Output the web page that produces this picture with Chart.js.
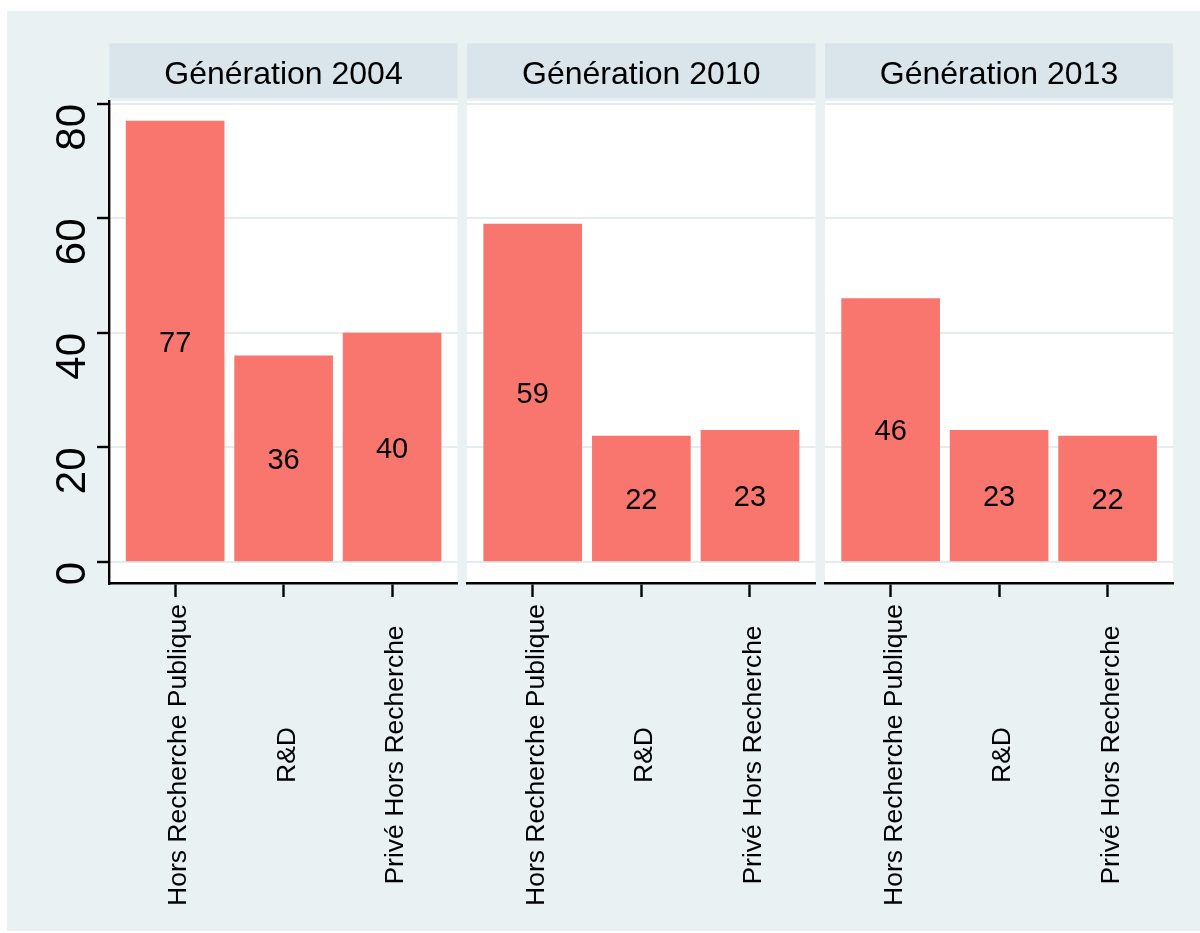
<!DOCTYPE html>
<html lang="fr">
<head>
<meta charset="utf-8">
<title>Part par génération</title>
<script src="https://cdn.jsdelivr.net/npm/chart.js@4.4.1/dist/chart.umd.min.js"></script>
<style>
    html, body { margin: 0; padding: 0; background: #fff; }
    body { width: 1200px; height: 933px; position: relative; overflow: hidden; }
    #frame { position: absolute; left: 7px; top: 11px; width: 1193px; height: 920px; background: #e9f1f3; }
    canvas { position: absolute; top: 0; }
</style>
</head>
<body>
<div id="frame"></div>
<canvas id="panel0" width="462" height="933" style="left:0px"></canvas>
<canvas id="panel1" width="358" height="933" style="left:462px"></canvas>
<canvas id="panel2" width="380" height="933" style="left:820px"></canvas>
<script>
const categories = ["Hors Recherche Publique", "R&D", "Privé Hors Recherche"];
const generations = ["Génération 2004", "Génération 2010", "Génération 2013"];
const share2004 = [77, 36, 40];
const share2010 = [59, 22, 23];
const share2013 = [46, 23, 22];
const yTicks = [0, 20, 40, 60, 80];

const FONT = '"Liberation Sans", Arial, sans-serif';
const BAR_COLOR = "#f8766d";
const HEADER_COLOR = "#d9e5eb";
const GRID_COLOR = "#e3ecef";

// panel geometry inside each canvas: y axis width, left/right padding
const panels = [
    { id: "panel0", values: share2004, yWidth: 109.5, padLeft: 0, padRight: 4.5, showY: true },
    { id: "panel1", values: share2010, yWidth: 0, padLeft: 5, padRight: 4.5, showY: false },
    { id: "panel2", values: share2013, yWidth: 0, padLeft: 5, padRight: 27, showY: false }
];

const panelDecor = {
    id: "panelDecor",
    beforeDraw(chart, args, opts) {
        const { ctx, chartArea: a } = chart;
        ctx.save();
        // white plot region
        ctx.fillStyle = "#ffffff";
        ctx.fillRect(a.left, a.top, a.right - a.left, a.bottom - a.top);
        // strip with the generation name
        ctx.fillStyle = HEADER_COLOR;
        ctx.fillRect(a.left, 43.3, a.right - a.left, 55);
        ctx.fillStyle = "#000";
        ctx.font = `32px ${FONT}`;
        ctx.textAlign = "center";
        ctx.textBaseline = "alphabetic";
        ctx.fillText(opts.title, (a.left + a.right) / 2, 83.5);
        ctx.restore();
    },
    afterDatasetsDraw(chart) {
        const { ctx } = chart;
        const meta = chart.getDatasetMeta(0);
        const points = chart.data.datasets[0].data;
        ctx.save();
        ctx.fillStyle = "#000";
        ctx.font = `29px ${FONT}`;
        ctx.textAlign = "center";
        ctx.textBaseline = "alphabetic";
        meta.data.forEach((bar, i) => {
            const mid = (bar.y + bar.base) / 2;
            ctx.fillText(String(points[i].y), bar.x, mid + 10.7);
        });
        ctx.restore();
    },
    afterDraw(chart, args, opts) {
        const { ctx, scales } = chart;
        ctx.save();
        ctx.fillStyle = "#000";
        ctx.textBaseline = "alphabetic";

        // category labels, vertical
        ctx.font = `26.5px ${FONT}`;
        ctx.textAlign = "center";
        categories.forEach((name, i) => {
            const x = scales.x.getPixelForValue(i + 1);
            ctx.save();
            ctx.translate(x + 11, 755);
            ctx.rotate(-Math.PI / 2);
            ctx.fillText(name, 0, 0);
            ctx.restore();
        });

        // y tick labels, vertical
        if (opts.showY) {
            ctx.font = `42px ${FONT}`;
            ctx.textAlign = "right";
            yTicks.forEach((v) => {
                const y = scales.y.getPixelForValue(v);
                ctx.save();
                ctx.translate(85, y);
                ctx.rotate(-Math.PI / 2);
                ctx.fillText(String(v), 0, 0);
                ctx.restore();
            });
        }
        ctx.restore();
    }
};

panels.forEach((p, idx) => {
    const canvas = document.getElementById(p.id);
    new Chart(canvas, {
        type: "bar",
        data: {
            datasets: [{
                data: p.values.map((v, i) => ({ x: i + 1, y: v })),
                backgroundColor: BAR_COLOR,
                borderWidth: 0,
                barThickness: 98
            }]
        },
        plugins: [panelDecor],
        options: {
            responsive: false,
            animation: false,
            devicePixelRatio: 1,
            layout: {
                padding: { top: 101, bottom: 329.5, left: p.padLeft, right: p.padRight }
            },
            plugins: {
                legend: { display: false },
                tooltip: { enabled: false },
                panelDecor: { title: generations[idx], showY: p.showY }
            },
            scales: {
                x: {
                    type: "linear",
                    min: 0.395,
                    max: 3.603,
                    offset: false,
                    afterBuildTicks: (scale) => {
                        scale.ticks = categories.map((c, i) => ({ value: i + 1 }));
                    },
                    afterFit: (scale) => { scale.height = 20; },
                    ticks: { display: false },
                    grid: {
                        offset: false,
                        drawOnChartArea: false,
                        drawTicks: true,
                        tickLength: 13.5,
                        tickColor: "#000",
                        tickWidth: 2.4
                    },
                    border: { display: true, color: "#000", width: 2.5 }
                },
                y: {
                    min: -3.76,
                    max: 80.52,
                    afterBuildTicks: (scale) => {
                        scale.ticks = yTicks.map((v) => ({ value: v }));
                    },
                    afterFit: (scale) => { scale.width = p.yWidth; },
                    ticks: { display: false },
                    grid: {
                        color: GRID_COLOR,
                        lineWidth: 2,
                        drawTicks: p.showY,
                        tickLength: 12.5,
                        tickColor: "#000",
                        tickWidth: 2.4
                    },
                    border: { display: p.showY, color: "#000", width: 2.4 }
                }
            }
        }
    });
});
</script>
</body>
</html>
